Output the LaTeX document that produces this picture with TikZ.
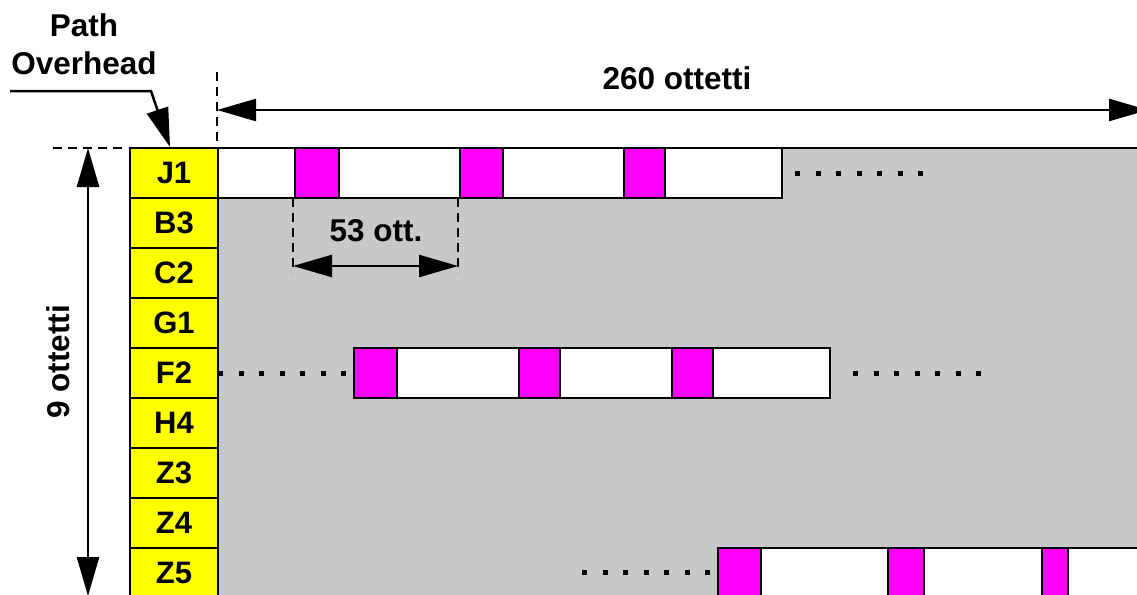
\documentclass[tikz,border=0pt]{standalone}
\usepackage{fontspec}
\setmainfont{Liberation Sans}
\usetikzlibrary{arrows.meta}
\definecolor{gfill}{RGB}{200,200,200}
\definecolor{mag}{RGB}{255,0,255}
\definecolor{yel}{RGB}{255,255,0}
\tikzset{
  lbl/.style={font=\bfseries\fontsize{31.5}{36}\selectfont, inner sep=0pt},
  cell/.style={draw=black, line width=2.5pt, fill=yel, minimum width=88pt, minimum height=50pt, inner sep=0pt, font=\bfseries\fontsize{31}{36}\selectfont},
  strip/.style={draw=black, line width=2.5pt, fill=white},
  mbox/.style={draw=black, line width=2.5pt, fill=mag},
  dotrow/.style={line width=5pt, dash pattern=on 5pt off 15.5pt},
  dimdash/.style={line width=2.5pt, dash pattern=on 9pt off 6pt},
  dimarrow/.style={line width=2.5pt, {Triangle[length=39pt,width=22pt]}-{Triangle[length=39pt,width=22pt]}},
  leader/.style={line width=2.5pt, -{Triangle[length=39pt,width=22pt]}},
}
\begin{document}
\begin{tikzpicture}[x=1pt,y=-1pt]
\useasboundingbox (0,0) rectangle (1137,594);
\clip (0,0) rectangle (1137,594);
% gray payload area
\fill[gfill] (218,148) rectangle (1150,610);
\draw[line width=2.5pt] (218,148) -- (1150,148);
% row strips
\draw[strip] (218,148) rectangle (782,198);
\draw[mbox] (295,148) rectangle (339,198);
\draw[mbox] (460,148) rectangle (503,198);
\draw[mbox] (624,148) rectangle (665,198);
\draw[strip] (354,348) rectangle (830,398);
\draw[mbox] (354,348) rectangle (397,398);
\draw[mbox] (519,348) rectangle (560,398);
\draw[mbox] (672,348) rectangle (713,398);
\draw[strip] (718,548) rectangle (1150,610);
\draw[mbox] (718,548) rectangle (761,610);
\draw[mbox] (888,548) rectangle (924,610);
\draw[mbox] (1042,548) rectangle (1068,610);
% dotted continuations
\draw[dotrow] (795,173) -- (923,173);
\draw[dotrow] (218,373) -- (346,373);
\draw[dotrow] (853,373) -- (981,373);
\draw[dotrow] (582,572) -- (710,572);
% path overhead column
\node[cell] (c1) at (174,173) {J1};
\node[cell] (c2) at (174,223) {B3};
\node[cell] (c3) at (174,273) {C2};
\node[cell] (c4) at (174,323) {G1};
\node[cell] (c5) at (174,373) {F2};
\node[cell] (c6) at (174,423) {H4};
\node[cell] (c7) at (174,473) {Z3};
\node[cell] (c8) at (174,523) {Z4};
\node[cell] (c9) at (174,573) {Z5};
% dimension: 260 ottetti
\coordinate (wa) at (217,72);
\coordinate (wb) at (217,148);
\draw[dimdash] (wa) -- (wb);
\coordinate (w0) at (217,110);
\coordinate (w1) at (1148,110);
\draw[dimarrow] (w0) -- (w1);
\node[lbl] (t260) at (677,78) {260 ottetti};
% dimension: 9 ottetti
\coordinate (ha) at (53,148);
\coordinate (hb) at (128,148);
\draw[dimdash] (ha) -- (hb);
\coordinate (h0) at (88,148);
\coordinate (h1) at (88,596);
\draw[dimarrow] (h0) -- (h1);
\node[lbl, rotate=90] (t9) at (58,362) {9 ottetti};
% dimension: 53 ott.
\coordinate (da) at (293,198);
\coordinate (db) at (293,273);
\coordinate (dc) at (458,198);
\coordinate (dd) at (458,273);
\draw[dimdash] (da) -- (db);
\draw[dimdash] (dc) -- (dd);
\coordinate (d0) at (293,266);
\coordinate (d1) at (458,266);
\draw[dimarrow] (d0) -- (d1);
\node[lbl] (t53) at (376,231) {53 ott.};
% Path Overhead label
\node[lbl] (tpath) at (84,25) {Path};
\node[lbl] (tover) at (84,63) {Overhead};
\coordinate (p0) at (10,91);
\coordinate (p1) at (151,91);
\coordinate (p2) at (170,147);
\draw[leader] (p0) -- (p1) -- (p2);
\end{tikzpicture}
\end{document}
